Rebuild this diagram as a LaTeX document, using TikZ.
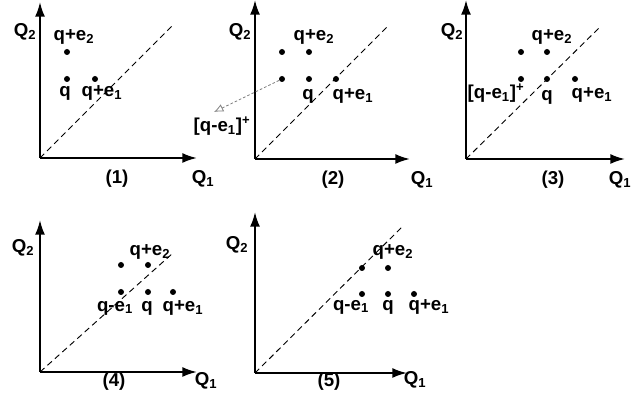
\documentclass[tikz,border=0pt]{standalone}
\usepackage{fontspec}
\setmainfont{Liberation Sans}
\usetikzlibrary{arrows.meta}
\tikzset{
  axis/.style={line width=1.5pt,-{Latex[length=11pt,width=7.5pt]}},
  diag/.style={line width=0.7pt,dash pattern=on 4.5pt off 3pt},
  pt/.style={circle,fill,inner sep=0pt,minimum size=4.5pt},
  lbl/.style={font=\bfseries\fontsize{14}{16}\selectfont,inner sep=0pt},
  hint/.style={gray,line width=0.6pt,dash pattern=on 2pt off 1.5pt,-{Latex[open,length=7pt,width=6pt]}}
}
\begin{document}
\begin{tikzpicture}[x=0.75pt,y=0.75pt]
  \useasboundingbox (0,0) rectangle (633,410);
  % panel (1)
  \begin{scope}[shift={(40,252)}]
    \coordinate (o1) at (0,0);
    \coordinate (y1) at (0,156);
    \coordinate (x1) at (157,0);
    \coordinate (d1) at (133,133);
    \draw[axis] (o1) -- (y1);
    \draw[axis] (o1) -- (x1);
    \node[pt] (a1) at (27,106) {};
    \node[pt] (q1) at (27,79) {};
    \node[pt] (b1) at (55,79) {};
    \node[lbl] (la1) at (34,121) {q+e\textsubscript{2}};
    \node[lbl] (lq1) at (25,65) {q};
    \node[lbl] (lb1) at (62,65) {q+e\textsubscript{1}};
    \draw[diag] (o1) -- (d1);
    \node[lbl] (Y1) at (-15,126) {Q\textsubscript{2}};
    \node[lbl] (X1) at (163,-21) {Q\textsubscript{1}};
    \node[lbl] (n1) at (77,-21) {(1)};
  \end{scope}
  % panel (2)
  \begin{scope}[shift={(255,251)}]
    \coordinate (o2) at (0,0);
    \coordinate (y2) at (0,159);
    \coordinate (x2) at (155,0);
    \coordinate (d2) at (133,133);
    \draw[axis] (o2) -- (y2);
    \draw[axis] (o2) -- (x2);
    \node[pt] (c2) at (27,107) {};
    \node[pt] (a2) at (54,107) {};
    \node[pt] (m2) at (27,80) {};
    \node[pt] (q2) at (54,80) {};
    \node[pt] (b2) at (81,80) {};
    \draw[diag] (o2) -- (d2);
    \node[lbl] (la2) at (59,122) {q+e\textsubscript{2}};
    \node[lbl] (lq2) at (53,63) {q};
    \node[lbl] (lb2) at (98,63) {q+e\textsubscript{1}};
    \coordinate (t2) at (-41,47);
    \draw[hint] (m2) -- (t2);
    \node[lbl] (lm2) at (-33,33) {[q-e\textsubscript{1}]\textsuperscript{+}};
    \node[lbl] (Y2) at (-15,127) {Q\textsubscript{2}};
    \node[lbl] (X2) at (167,-21) {Q\textsubscript{1}};
    \node[lbl] (n2) at (78,-21) {(2)};
  \end{scope}
  % panel (3)
  \begin{scope}[shift={(466,251)}]
    \coordinate (o3) at (0,0);
    \coordinate (y3) at (0,159);
    \coordinate (x3) at (159,0);
    \coordinate (d3) at (134,132);
    \draw[axis] (o3) -- (y3);
    \draw[axis] (o3) -- (x3);
    \node[pt] (c3) at (55,107) {};
    \node[pt] (a3) at (81,107) {};
    \node[pt] (m3) at (55,80) {};
    \node[pt] (q3) at (81,80) {};
    \node[pt] (b3) at (109,80) {};
    \draw[diag] (o3) -- (d3);
    \node[lbl] (la3) at (86,122) {q+e\textsubscript{2}};
    \node[lbl] (lm3) at (30,66) {[q-e\textsubscript{1}]\textsuperscript{+}};
    \node[lbl] (lq3) at (81,62) {q};
    \node[lbl] (lb3) at (126,64) {q+e\textsubscript{1}};
    \node[lbl] (Y3) at (-14,127) {Q\textsubscript{2}};
    \node[lbl] (X3) at (154,-21) {Q\textsubscript{1}};
    \node[lbl] (n3) at (87,-21) {(3)};
  \end{scope}
  % panel (4)
  \begin{scope}[shift={(40,38)}]
    \coordinate (o4) at (0,0);
    \coordinate (y4) at (0,152);
    \coordinate (x4) at (157,0);
    \coordinate (d4) at (133,119);
    \draw[axis] (o4) -- (y4);
    \draw[axis] (o4) -- (x4);
    \node[pt] (c4) at (81,107) {};
    \node[pt] (a4) at (108,107) {};
    \node[pt] (m4) at (81,80) {};
    \node[pt] (q4) at (108,80) {};
    \node[pt] (b4) at (133,80) {};
    \node[lbl] (la4) at (110,120) {q+e\textsubscript{2}};
    \node[lbl] (lm4) at (75,64) {q-e\textsubscript{1}};
    \node[lbl] (lq4) at (107,64) {q};
    \node[lbl] (lb4) at (143,64) {q+e\textsubscript{1}};
    \draw[diag] (o4) -- (d4);
    \node[lbl] (Y4) at (-17,124) {Q\textsubscript{2}};
    \node[lbl] (X4) at (166,-9) {Q\textsubscript{1}};
    \node[lbl] (n4) at (74,-10) {(4)};
  \end{scope}
  % panel (5)
  \begin{scope}[shift={(255,37)}]
    \coordinate (o5) at (0,0);
    \coordinate (y5) at (0,161);
    \coordinate (x5) at (152,0);
    \coordinate (d5) at (147,146);
    \draw[axis] (o5) -- (y5);
    \draw[axis] (o5) -- (x5);
    \node[pt] (c5) at (107,105) {};
    \node[pt] (a5) at (133,105) {};
    \node[pt] (m5) at (107,79) {};
    \node[pt] (q5) at (133,79) {};
    \node[pt] (b5) at (159,79) {};
    \draw[diag] (o5) -- (d5);
    \node[lbl] (la5) at (138,121) {q+e\textsubscript{2}};
    \node[lbl] (lm5) at (96,66) {q-e\textsubscript{1}};
    \node[lbl] (lq5) at (133,66) {q};
    \node[lbl] (lb5) at (174,66) {q+e\textsubscript{1}};
    \node[lbl] (Y5) at (-18,128) {Q\textsubscript{2}};
    \node[lbl] (X5) at (160,-7) {Q\textsubscript{1}};
    \node[lbl] (n5) at (74,-9) {(5)};
  \end{scope}
\end{tikzpicture}
\end{document}
